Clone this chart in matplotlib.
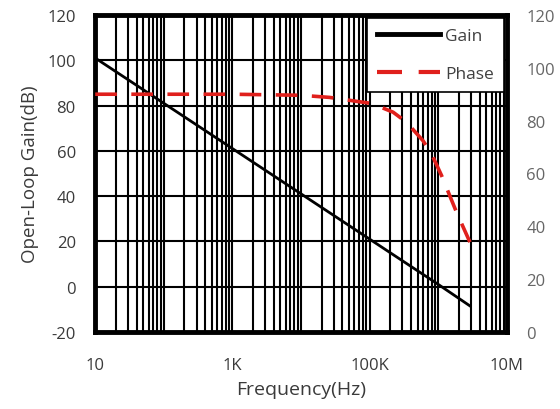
import matplotlib
matplotlib.use("Agg")
import matplotlib.pyplot as plt
from matplotlib.ticker import LogLocator, FixedLocator, FuncFormatter, NullFormatter

# data
freq_gain = [10, 100, 1e3, 1e4, 1e5, 1e6, 2.9e6]
gain_db = [101, 81, 61, 41, 21, 1, -8.5]

freq_phase = [10, 100, 1e3, 1e4, 2.6e4, 6.5e4, 1.07e5, 2.2e5, 3.45e5, 6e5,
              8e5, 1.12e6, 1.85e6, 2.9e6]
phase_deg = [90, 90, 90, 89.6, 88.8, 87.3, 86.5, 83.2, 79.4, 72.4,
             67.4, 59.2, 45.3, 34]

x_labels = {10: "10", 1e3: "1K", 1e5: "100K", 1e7: "10M"}
left_ticks = [-20, 0, 20, 40, 60, 80, 100, 120]
right_ticks = [0, 20, 40, 60, 80, 100, 120]

FONT = ["Open Sans", "DejaVu Sans"]
plt.rcParams["font.family"] = FONT
plt.rcParams["axes.unicode_minus"] = False

fig = plt.figure(figsize=(5.6, 4.1), dpi=100)
ax = fig.add_axes([0.170, 0.188, 0.735, 0.773])

ax.set_xscale("log")
ax.set_xlim(10, 1e7)
ax.set_ylim(-20, 120)

ax.xaxis.set_major_locator(FixedLocator([10 ** k for k in range(1, 8)]))
ax.xaxis.set_minor_locator(LogLocator(base=10, subs=range(2, 10), numticks=50))
ax.xaxis.set_minor_formatter(NullFormatter())


def fmt_x(v, pos):
    for k, lab in x_labels.items():
        if abs(v - k) / k < 1e-6:
            return lab
    return ""


ax.xaxis.set_major_formatter(FuncFormatter(fmt_x))
ax.set_yticks(left_ticks)

ax.grid(True, which="both", axis="x", color="black", linewidth=1.5)
ax.grid(True, which="major", axis="y", color="black", linewidth=1.5)
ax.set_axisbelow(True)

for sp in ax.spines.values():
    sp.set_linewidth(3.5)

ax.tick_params(which="both", length=0)
ax.tick_params(axis="x", pad=18, labelsize=12, labelcolor="#3a3a3a")
ax.tick_params(axis="y", pad=14, labelsize=12, labelcolor="#3a3a3a")

gain_line, = ax.plot(freq_gain, gain_db, color="black", linewidth=2.0, label="Gain")

ax2 = ax.twinx()
ax2.set_ylim(0, 120)
ax2.set_yticks(right_ticks)
ax2.tick_params(length=0, pad=14, labelsize=12, labelcolor="#666666")
for sp in ax2.spines.values():
    sp.set_visible(False)
phase_line, = ax2.plot(freq_phase, phase_deg, color="#e0201c", linewidth=2.6,
                       dashes=(6, 4), label="Phase")

leg = ax2.legend([gain_line, phase_line], ["Gain", "Phase"], loc="upper right",
                 borderaxespad=0.15, fontsize=12.5, handlelength=3.6,
                 fancybox=False, framealpha=1, labelspacing=1.25,
                 handletextpad=0.3, borderpad=0.6)
leg.get_frame().set_edgecolor("black")
leg.get_frame().set_linewidth(1.2)
for t in leg.get_texts():
    t.set_color("#404040")
leg.get_lines()[0].set_linewidth(3.5)
leg.get_lines()[1].set_linewidth(3.0)

ax.set_xlabel("Frequency(Hz)", fontsize=14, color="#3a3a3a", labelpad=5)
ax.set_ylabel("Open-Loop Gain(dB)", fontsize=13.5, color="#3a3a3a", labelpad=6)

fig.savefig("out.png", dpi=100)
